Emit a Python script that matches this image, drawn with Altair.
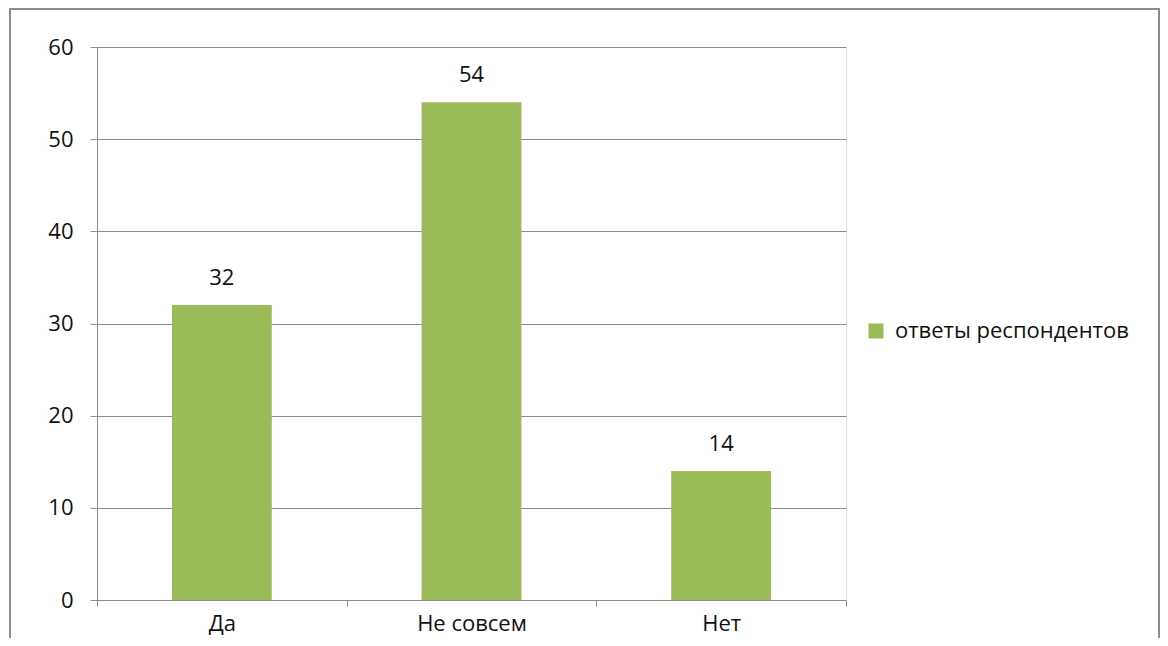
import altair as alt
import pandas as pd

categories = ["Да", "Не совсем", "Нет"]
values = [32, 54, 14]
series_name = "ответы респондентов"

df = pd.DataFrame({"cat": categories, "val": values, "series": [series_name] * 3})

FONT = "Open Sans"
GRAY = "#8c8c8c"
FS = 22

x_enc = alt.X("cat:N", sort=categories, title=None,
              scale=alt.Scale(paddingInner=0, paddingOuter=0),
              axis=alt.Axis(labelAngle=0, labelFontSize=FS, labelFont=FONT, labelColor="#111",
                            labelPadding=7, tickBand="extent", tickSize=6, tickColor=GRAY,
                            domainColor=GRAY, grid=False))
y_enc = alt.Y("val:Q", title=None,
              scale=alt.Scale(domain=[0, 60], nice=False),
              axis=alt.Axis(values=[0, 10, 20, 30, 40, 50, 60], labelFontSize=FS, labelFont=FONT,
                            labelColor="#111", labelPadding=17, tickSize=7, tickColor=GRAY,
                            domainColor=GRAY, gridColor=GRAY, gridWidth=1, gridOpacity=1))

bars = alt.Chart(df).mark_bar(color="#9BBB59", width={"band": 0.4}).encode(
    x=x_enc, y=y_enc,
    color=alt.Color("series:N", scale=alt.Scale(range=["#9BBB59"]),
                    legend=alt.Legend(title=None, orient="none", legendX=768, legendY=273,
                                      symbolType="square", symbolSize=225, symbolStrokeWidth=0,
                                      labelFontSize=FS, labelFont=FONT, labelColor="#111",
                                      labelOffset=8, labelLimit=0)),
)

labels = alt.Chart(df).mark_text(dy=-27, fontSize=FS, font=FONT, color="#111").encode(
    x=alt.X("cat:N", sort=categories), y="val:Q", text="val:Q"
)

border = alt.Chart(df).mark_rect(fill=None, stroke=GRAY, strokeWidth=2, clip=False).encode(
    x=alt.value(-87), x2=alt.value(1062), y=alt.value(-38), y2=alt.value(700)
)

chart = alt.layer(border, bars, labels).properties(
    width=749, height=553,
    autosize=alt.AutoSizeParams(type="none"),
    padding={"left": 89, "top": 39, "right": 314, "bottom": 38},
).configure_view(stroke=None).configure(background="white")

chart.save("out.html", embed_options={"renderer": "svg", "actions": False})
